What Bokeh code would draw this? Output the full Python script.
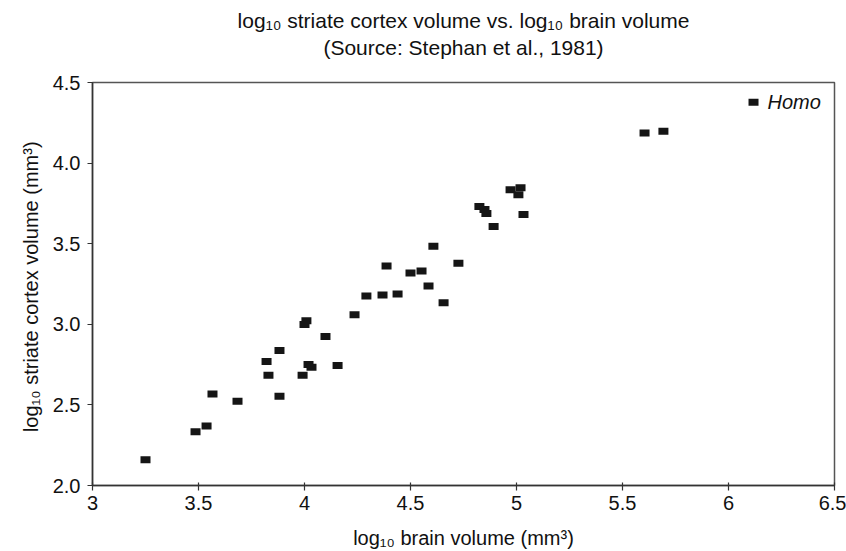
from bokeh.plotting import figure
from bokeh.models import FixedTicker, Title, ColumnDataSource, Range1d
from bokeh.core.properties import value
from bokeh.embed import file_html
from bokeh.resources import INLINE

# log10 brain volume (mm^3)
brain = [3.25, 3.486, 3.538, 3.566, 3.684, 3.821, 3.830, 3.882, 3.882, 3.991,
         4.019, 4.033, 4.009, 4.000, 4.099, 4.156, 4.236, 4.292, 4.368, 4.439,
         4.387, 4.500, 4.552, 4.585, 4.608, 4.656, 4.726, 4.825, 4.849, 4.858,
         4.892, 4.972, 5.019, 5.009, 5.033, 5.604, 5.693]
# log10 striate cortex volume (mm^3)
striate = [2.160, 2.333, 2.369, 2.567, 2.523, 2.770, 2.684, 2.837, 2.554, 2.684,
           2.751, 2.733, 3.022, 2.998, 2.924, 2.745, 3.059, 3.176, 3.182, 3.188,
           3.361, 3.318, 3.330, 3.238, 3.484, 3.133, 3.379, 3.730, 3.712, 3.687,
           3.607, 3.835, 3.847, 3.804, 3.681, 4.186, 4.198]

homo_brain = [6.118]
homo_striate = [4.377]
homo_label = ["Homo"]

x_ticks = [3, 3.5, 4, 4.5, 5, 5.5, 6, 6.5]
x_tick_labels = ["3", "3.5", "4", "4.5", "5", "5.5", "6", "6.5"]
y_ticks = [2.0, 2.5, 3.0, 3.5, 4.0, 4.5]
y_tick_labels = ["2.0", "2.5", "3.0", "3.5", "4.0", "4.5"]

title_line1 = "log\u2081\u2080 striate cortex volume vs. log\u2081\u2080 brain volume"
title_line2 = "(Source: Stephan et al., 1981)"
x_label = "log\u2081\u2080 brain volume (mm\u00b3)"
y_label = "log\u2081\u2080 striate cortex volume  (mm\u00b3)"

FONT = "Liberation Sans"

p = figure(width=846, height=551,
           x_range=Range1d(3, 6.5), y_range=Range1d(2.0, 4.5),
           output_backend="svg", toolbar_location=None,
           min_border_left=92, min_border_right=12,
           min_border_top=82, min_border_bottom=63)

# second line sits next to the frame, first line above it
p.add_layout(Title(text=title_line2, align="center",
                   text_font_size="21px", text_font=FONT, text_font_style="normal",
                   text_color="#111111", standoff=48), "above")
p.add_layout(Title(text=title_line1, align="center",
                   text_font_size="21px", text_font=FONT, text_font_style="normal",
                   text_color="#111111", standoff=-44), "above")

p.xgrid.visible = False
p.ygrid.visible = False
p.background_fill_color = "white"
p.border_fill_color = "white"
p.outline_line_color = "#555555"
p.outline_line_width = 1.5

src = ColumnDataSource(dict(x=brain, y=striate))
p.rect(x="x", y="y", width=10, height=7, width_units="screen", height_units="screen",
       source=src, fill_color="#151515", line_color=None)

homo_src = ColumnDataSource(dict(x=homo_brain, y=homo_striate, t=homo_label))
p.rect(x="x", y="y", width=10, height=7, width_units="screen", height_units="screen",
       source=homo_src, fill_color="#151515", line_color=None)
p.text(x="x", y="y", text="t", source=homo_src, x_offset=14,
       text_baseline="middle", text_align="left",
       text_font=value(FONT), text_font_style="italic", text_font_size="20px",
       text_color="#111111")

p.xaxis.ticker = FixedTicker(ticks=x_ticks)
p.xaxis.major_label_overrides = dict(zip(x_ticks, x_tick_labels))
p.yaxis.ticker = FixedTicker(ticks=y_ticks)
p.yaxis.major_label_overrides = dict(zip(y_ticks, y_tick_labels))

for ax in (p.xaxis[0], p.yaxis[0]):
    ax.axis_line_color = "#333333"
    ax.axis_line_width = 1.5
    ax.major_tick_line_color = "#333333"
    ax.major_tick_line_width = 1.2
    ax.minor_tick_line_color = None
    ax.major_label_text_font = FONT
    ax.major_label_text_font_size = "20px"
    ax.major_label_text_color = "#111111"
    ax.axis_label_text_font = FONT
    ax.axis_label_text_font_size = "20px"
    ax.axis_label_text_font_style = "normal"
    ax.axis_label_text_color = "#111111"

p.xaxis.axis_label = x_label
p.yaxis.axis_label = y_label
p.xaxis.major_tick_in = 3
p.xaxis.major_tick_out = 5
p.yaxis.major_tick_in = 0
p.yaxis.major_tick_out = 5
p.yaxis.major_label_standoff = 7
p.xaxis.axis_label_standoff = 14
p.yaxis.axis_label_standoff = 8

open("out.html", "w").write(file_html(p, INLINE))
